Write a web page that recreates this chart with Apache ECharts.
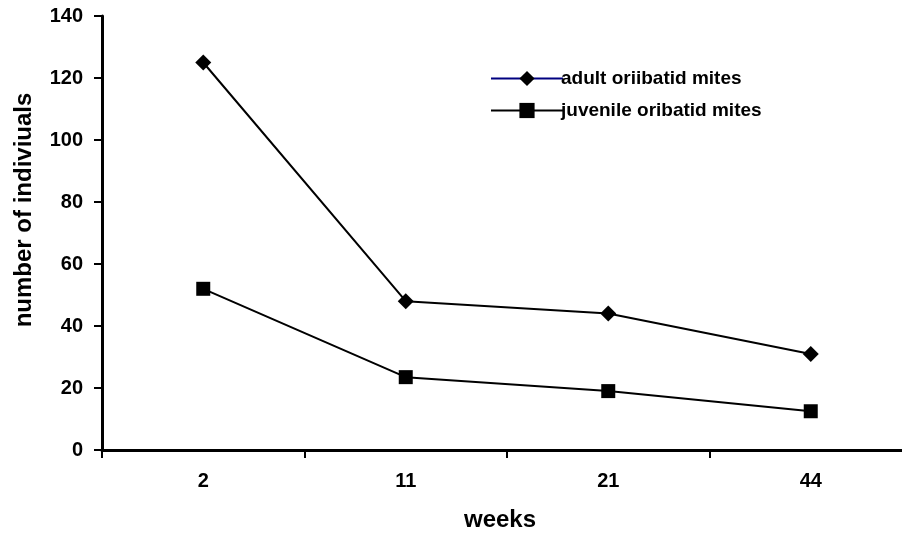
<!DOCTYPE html>
<html><head><meta charset="utf-8">
<script src="https://cdn.jsdelivr.net/npm/echarts@6/dist/echarts.min.js"></script>
<style>html,body{margin:0;padding:0;background:#fff}#c{width:902px;height:533px}</style>
</head><body><div id="c"></div>
<script>
var categories = ['2', '11', '21', '44'];
var adultMites = [125, 48, 44, 31];
var juvenileMites = [52, 23.5, 19, 12.5];
var seriesNames = ['adult oriibatid mites', 'juvenile oribatid mites'];

var font = 'Liberation Sans, Arial, sans-serif';
var chart = echarts.init(document.getElementById('c'), null, {renderer: 'canvas'});
chart.setOption({
  animation: false,
  backgroundColor: '#fff',
  grid: {left: 102, right: -10, top: 16, bottom: 83, containLabel: false, outerBoundsMode: 'none'},
  legend: {
    left: 485, top: 64, orient: 'vertical', itemGap: 13, itemWidth: 72, itemHeight: 19,
    textStyle: {fontFamily: font, fontWeight: 'bold', fontSize: 19, color: '#000', padding: [0,0,0,-7]},
    data: [
      {name: seriesNames[0], itemStyle: {color: '#000'}, lineStyle: {color: '#000080', width: 2}},
      {name: seriesNames[1], itemStyle: {color: '#000'}, lineStyle: {color: '#000', width: 2}}
    ]
  },
  xAxis: {
    type: 'category', data: categories, boundaryGap: true,
    name: 'weeks', nameLocation: 'middle', nameGap: 58,
    nameTextStyle: {fontFamily: font, fontWeight: 'bold', fontSize: 24, color: '#000', padding: [0, 14, 0, 0]},
    axisLine: {onZero: false, lineStyle: {color: '#000', width: 3}},
    axisTick: {show: true, inside: false, length: 8, lineStyle: {color: '#000', width: 2}},
    axisLabel: {fontFamily: font, fontWeight: 'bold', fontSize: 20, color: '#000', margin: 21},
    splitLine: {show: false}
  },
  yAxis: {
    type: 'value', min: 0, max: 140, interval: 20,
    name: 'number of indiviuals', nameLocation: 'middle', nameGap: 66, nameRotate: 90,
    nameTextStyle: {fontFamily: font, fontWeight: 'bold', fontSize: 24, color: '#000', padding: [0, 0, 0, 46]},
    axisLine: {show: true, lineStyle: {color: '#000', width: 3}},
    axisTick: {show: true, inside: false, length: 8, lineStyle: {color: '#000', width: 2}},
    axisLabel: {fontFamily: font, fontWeight: 'bold', fontSize: 20, color: '#000', margin: 19},
    splitLine: {show: false}
  },
  series: [
    {name: seriesNames[0], type: 'line', data: adultMites, symbol: 'diamond', symbolSize: 16,
     lineStyle: {color: '#000', width: 2}, itemStyle: {color: '#000'}},
    {name: seriesNames[1], type: 'line', data: juvenileMites, symbol: 'rect', symbolSize: 14,
     lineStyle: {color: '#000', width: 2}, itemStyle: {color: '#000'}}
  ]
});
</script></body></html>
